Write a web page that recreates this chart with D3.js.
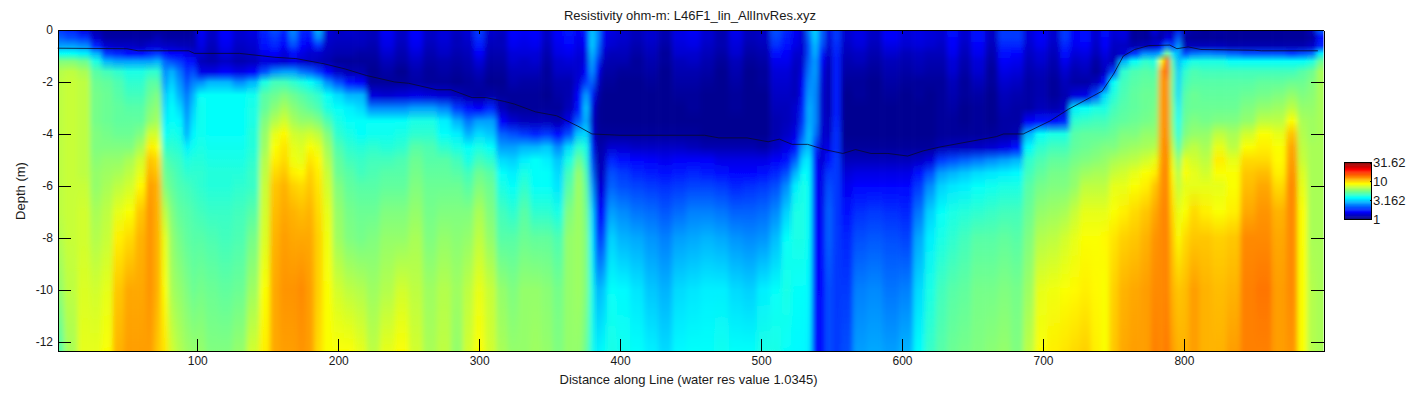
<!DOCTYPE html>
<html>
<head>
<meta charset="utf-8">
<script src="https://d3js.org/d3.v7.min.js"></script>
<style>
  body { margin: 0; background: #fff; }
  text { font-family: "Liberation Sans", Arial, sans-serif; fill: #1a1a1a; }
  .axis text { font-size: 12px; }
  .axis path, .axis line { stroke: #000; shape-rendering: crispEdges; }
</style>
</head>
<body>
<svg id="chart" width="1419" height="394"></svg>
<script>
const titleText = "Resistivity ohm-m: L46F1_lin_AllInvRes.xyz";
const xLabel = "Distance along Line (water res value 1.0345)";
const yLabel = "Depth (m)";
const xTicks = [100, 200, 300, 400, 500, 600, 700, 800];
const yTicks = [0, -2, -4, -6, -8, -10, -12];
const cbarTicks = [1, 3.162, 10, 31.62];

// depth nodes (m below surface) for each profile
const depths = [0, 0.3, 0.6, 0.9, 1.2, 1.6, 2, 2.5, 3, 3.5, 4, 4.5, 5, 5.5, 6, 7, 8, 10, 12.35];

const stations = [1, 10, 20, 28, 36, 44, 52, 60, 67, 72, 77, 82, 87, 93, 97, 102, 110, 120, 130, 140,
  148, 155, 162, 168, 174, 180, 186, 192, 200, 208, 216, 224, 235, 245, 255, 265, 275, 285, 292, 300,
  308, 316, 324, 332, 340, 348, 356, 364, 371, 376, 380, 384, 388, 393, 402, 412, 422, 432, 442, 452,
  462, 472, 482, 492, 502, 511, 518, 525, 530, 534, 538, 543, 548, 553, 560, 570, 580, 592, 604, 612,
  620, 628, 636, 644, 654, 664, 672, 682, 690, 698, 708, 716, 722, 730, 738, 744, 750, 757, 765, 773,
  780, 784, 788, 792, 796, 800, 807, 815, 825, 835, 845, 857, 868, 877, 884, 891, 897];

// resistivity per station, as percent of the log colour range (0 = 1 ohm-m, 100 = 31.62 ohm-m)
const profiles = [
  [18,22,28,38,50,55,56,56,56,56,56,56,56,56,56,56,55,52,46],
  [16,20,28,38,50,56,57,57,57,57,57,57,57,57,57,57,57,56,54],
  [10,18,26,36,48,54,56,56,56,56,56,56,56,56,57,58,58,59,60],
  [5,8,16,30,40,46,48,49,49,49,50,50,51,52,52,54,55,58,60],
  [3,4,8,18,30,44,47,48,48,48,49,50,52,53,54,56,57,60,62],
  [3,4,7,16,28,42,45,46,47,47,48,50,52,54,56,60,64,68,70],
  [3,4,7,14,28,40,42,44,46,47,48,50,54,56,58,62,66,71,72],
  [3,4,6,14,28,40,42,44,46,47,50,54,58,60,63,68,70,71,72],
  [3,4,8,16,28,42,46,48,50,52,58,64,68,70,72,73,73,73,72],
  [3,6,8,18,30,42,46,50,52,54,58,62,66,68,70,70,70,70,68],
  [3,4,7,14,22,26,28,32,34,36,38,42,46,48,50,56,60,62,65],
  [3,4,7,12,20,30,33,36,38,38,40,42,44,46,47,50,52,54,58],
  [3,4,6,12,18,24,27,30,34,37,39,41,43,44,45,47,49,52,55],
  [3,4,6,10,14,17,20,24,26,28,30,36,40,42,44,46,47,50,53],
  [3,4,5,8,14,20,25,30,33,35,37,39,41,42,43,45,46,48,52],
  [12,11,10,8,6,10,26,38,39,39,39,40,41,42,42,44,46,49,52],
  [7,7,6,5,5,10,30,38,38,38,38,39,40,41,41,43,45,48,50],
  [13,12,11,9,7,12,30,38,38,38,38,39,40,41,41,43,44,47,50],
  [8,8,7,6,5,10,26,38,38,38,38,39,40,41,42,44,45,48,52],
  [10,9,8,7,6,12,30,39,40,40,41,41,42,43,43,46,49,53,58],
  [16,15,14,11,9,20,40,46,47,50,52,53,55,56,57,58,59,62,64],
  [20,18,16,12,9,26,44,48,51,55,60,62,64,66,68,69,70,71,71],
  [16,14,12,9,8,28,44,50,54,58,63,65,66,68,70,71,72,73,72],
  [26,24,20,14,10,28,42,48,51,54,58,60,61,64,67,70,71,73,72],
  [16,15,13,10,8,24,40,46,49,52,57,59,60,63,66,69,71,74,73],
  [16,14,11,8,7,22,38,44,47,52,58,62,65,67,68,70,71,72,72],
  [30,26,18,8,6,18,34,42,45,50,56,60,63,64,65,66,67,67,66],
  [9,8,7,6,5,12,26,38,40,45,50,53,55,57,58,60,61,62,62],
  [7,7,6,5,3,7,20,34,38,40,42,45,47,48,50,52,53,58,62],
  [8,7,6,5,3,5,14,30,36,38,40,42,44,46,47,49,50,56,62],
  [7,7,6,4,3,5,12,30,34,38,38,41,43,44,46,48,49,55,60],
  [6,6,5,4,3,2,3,9,26,38,39,42,44,45,46,48,50,53,56],
  [12,11,10,8,6,4,3,8,26,38,39,41,44,46,47,50,52,55,60],
  [7,7,6,5,4,2,3,9,26,38,40,42,45,46,47,50,52,58,62],
  [13,12,11,9,7,5,4,10,28,40,42,46,48,49,50,52,54,56,58],
  [7,7,6,5,4,3,3,9,28,40,42,45,46,47,48,49,50,53,54],
  [9,9,8,7,5,4,3,8,25,36,38,42,46,47,48,50,52,55,56],
  [7,6,6,5,4,3,2,6,18,30,36,40,44,46,48,50,51,53,52],
  [9,8,7,6,5,4,3,4,14,24,30,38,40,44,46,50,52,56,58],
  [18,17,15,12,9,6,4,3,12,28,34,40,44,48,50,54,56,60,62],
  [8,7,6,5,4,3,2,4,16,28,32,38,42,46,48,50,52,57,58],
  [7,6,6,5,4,3,2,3,6,12,22,28,34,38,40,44,46,52,54],
  [13,12,11,9,8,6,5,3,3,8,20,28,33,36,38,42,46,50,52],
  [12,11,10,9,7,6,4,3,3,6,18,30,36,40,42,46,48,52,52],
  [13,12,11,9,8,6,4,3,3,6,16,30,38,38,38,42,47,52,53],
  [7,7,6,5,4,3,3,2,3,6,18,32,36,38,38,42,47,51,52],
  [13,12,11,10,8,7,5,4,3,5,14,26,32,34,35,40,45,49,50],
  [15,14,13,11,9,7,5,5,6,10,20,34,40,44,46,50,52,52,52],
  [12,11,10,9,8,8,9,12,14,22,32,42,48,52,53,53,53,53,52],
  [16,14,12,10,10,12,18,28,32,30,34,40,42,45,47,49,50,50,48],
  [32,33,33,31,29,27,23,16,10,8,10,16,20,24,28,34,36,40,40],
  [26,26,24,22,18,12,8,5,3,3,3,4,5,6,8,12,18,30,36],
  [12,11,10,8,6,4,3,2,2,2,3,5,6,7,9,14,20,32,38],
  [10,9,8,6,5,4,3,2,2,2,3,8,16,20,22,28,33,38,40],
  [8,8,7,6,5,3,2,2,2,2,3,8,14,18,20,26,30,37,39],
  [6,6,5,4,3,3,2,2,2,2,3,7,13,16,19,24,29,35,38],
  [8,8,7,6,5,4,3,2,2,2,3,7,12,15,18,23,27,32,36],
  [5,5,4,3,3,2,2,2,2,2,3,7,11,14,17,21,25,30,34],
  [10,10,9,8,6,5,4,3,2,2,3,7,12,15,18,23,28,34,37],
  [12,11,10,8,7,5,4,3,3,2,3,6,12,16,19,25,29,35,38],
  [8,8,7,6,5,4,3,2,2,2,2,5,12,15,19,25,30,36,38],
  [5,5,5,4,3,2,2,2,2,2,2,5,10,14,18,24,29,36,39],
  [11,10,9,8,6,5,4,3,3,2,2,5,10,13,16,22,27,34,38],
  [6,6,5,4,3,2,2,2,2,2,2,5,10,13,17,22,26,33,38],
  [7,7,6,5,4,3,3,2,2,2,2,4,10,14,18,23,27,36,40],
  [20,19,17,14,11,9,8,7,6,5,5,7,12,16,20,26,31,38,40],
  [16,15,14,12,11,9,8,7,6,6,7,10,14,20,26,33,38,40,38],
  [12,11,10,8,7,6,6,6,8,8,10,14,22,30,36,40,40,38,37],
  [8,8,8,8,8,10,12,14,16,18,22,28,34,38,40,40,40,38,37],
  [24,22,20,20,22,24,26,28,30,30,32,32,36,37,38,38,38,37,36],
  [34,33,31,30,28,28,27,26,26,26,24,18,14,14,14,14,14,14,14],
  [22,22,20,16,12,10,9,8,8,8,8,8,8,10,10,11,12,13,14],
  [10,9,8,7,6,5,5,5,5,6,7,10,14,18,20,22,22,20,20],
  [18,18,17,16,15,15,15,15,15,16,17,17,18,18,18,18,18,18,18],
  [8,8,7,6,5,4,3,2,2,2,2,3,6,9,11,14,16,18,20],
  [10,10,9,7,6,4,3,3,2,2,2,3,6,10,13,17,20,25,28],
  [7,7,6,5,4,3,2,2,2,2,2,3,6,10,13,18,21,26,29],
  [12,12,10,8,6,5,4,3,2,2,2,3,6,10,13,17,20,24,28],
  [9,9,8,6,5,4,3,2,2,2,2,3,6,10,13,16,19,25,30],
  [10,10,9,7,6,5,3,3,2,2,2,3,7,14,18,24,29,34,38],
  [9,9,8,6,5,4,3,2,2,2,2,3,9,20,26,33,36,40,43],
  [8,8,7,6,5,4,3,3,3,3,3,5,18,28,33,38,40,44,46],
  [14,13,12,11,9,8,6,5,4,3,3,6,20,30,35,40,42,46,48],
  [8,8,7,6,5,4,3,3,2,2,3,6,22,32,36,41,44,47,49],
  [14,14,12,11,9,8,6,4,3,3,3,7,24,34,38,42,46,49,50],
  [7,7,6,5,4,3,3,2,2,2,3,8,26,35,39,43,46,49,51],
  [18,18,16,14,12,10,8,6,5,4,4,10,28,36,40,44,47,50,52],
  [18,18,16,13,11,9,7,5,4,4,5,14,30,37,40,44,46,49,50],
  [9,9,8,7,6,5,4,4,4,12,30,37,42,44,46,48,50,53,56],
  [12,12,11,9,8,6,5,5,6,14,38,42,45,47,49,52,55,60,62],
  [8,8,7,6,5,4,3,3,5,14,40,44,47,49,50,53,56,61,64],
  [18,18,16,14,11,8,6,5,7,16,40,44,47,49,50,54,58,62,65],
  [12,12,11,9,7,5,4,9,36,42,46,47,49,51,52,57,60,63,66],
  [14,14,12,10,8,6,4,10,38,43,47,48,50,53,56,60,62,64,67],
  [8,8,7,6,4,3,6,20,40,44,47,49,51,54,56,60,62,63,64],
  [14,13,12,10,8,7,14,34,40,44,47,50,52,54,56,60,63,62,62],
  [9,8,7,6,6,20,38,41,44,46,48,50,54,57,60,62,65,67,68],
  [10,9,7,8,30,42,44,45,46,47,50,52,55,58,60,64,67,70,71],
  [3,3,5,18,38,45,46,47,47,48,50,53,56,60,62,66,68,71,72],
  [3,3,6,26,42,46,47,48,48,49,52,54,58,62,64,68,70,72,72],
  [10,6,8,26,40,45,47,48,49,50,52,55,60,64,68,71,73,74,75],
  [4,4,12,30,62,72,72,72,72,72,72,72,72,73,73,74,74,74,74],
  [6,10,24,50,80,78,74,74,74,74,74,75,75,75,75,75,75,75,76],
  [5,8,16,34,44,48,48,48,50,50,52,56,60,62,64,66,68,70,72],
  [16,22,28,30,30,32,33,34,36,38,40,44,50,54,56,60,62,68,70],
  [6,4,6,20,36,42,44,46,47,48,50,54,60,62,60,62,66,69,70],
  [4,3,6,24,40,45,46,48,48,50,52,56,58,60,60,66,68,72,72],
  [3,3,6,25,40,44,46,47,48,49,52,54,56,58,60,64,68,70,70],
  [4,3,6,24,40,44,46,47,48,50,56,60,64,62,60,62,67,69,70],
  [3,3,5,22,38,44,46,47,48,50,54,56,60,62,62,64,68,70,72],
  [3,3,5,20,38,44,46,48,50,52,58,62,66,68,69,71,74,75,75],
  [3,3,5,20,38,44,47,49,52,56,62,64,66,69,71,73,74,76,75],
  [3,3,5,20,38,44,47,50,53,56,60,62,63,64,66,70,71,72,72],
  [3,3,5,18,38,44,48,52,56,62,68,71,72,73,74,74,74,74,73],
  [3,3,5,20,38,46,48,50,52,54,55,56,57,59,60,62,62,62,62],
  [6,4,7,22,40,48,50,51,52,53,53,54,54,54,54,54,54,55,55],
  [22,14,16,36,48,54,54,54,54,54,54,54,54,54,54,54,54,54,54],
];

// water bottom trace
const bottomX = [1, 50, 58, 94, 98, 130, 155, 170, 190, 205, 220, 240, 250, 270, 280, 295, 305, 318, 325, 340,
  355, 370, 380, 400, 460, 470, 490, 505, 513, 522, 533, 545, 558, 567, 578, 590, 604, 615, 627, 667,
  672, 686, 705, 718, 742, 750, 757, 765, 775, 790, 795, 803, 812, 850, 855, 895];
const bottomD = [0.7, 0.72, 0.8, 0.8, 0.9, 0.9, 1.05, 1.1, 1.3, 1.5, 1.75, 2, 2.05, 2.3, 2.3, 2.6, 2.6, 2.75, 2.85, 3.15,
  3.3, 3.7, 4, 4.05, 4.05, 4.15, 4.15, 4.3, 4.2, 4.4, 4.4, 4.6, 4.75, 4.6, 4.75, 4.75, 4.85, 4.65, 4.5, 4.1,
  4, 4, 3.5, 3.05, 2.35, 1.7, 1, 0.75, 0.6, 0.58, 0.72, 0.65, 0.75, 0.78, 0.8, 0.8];

const W = 1419, H = 394;
const m = { l: 58, r: 1323.5, t: 30, b: 351 };
const svg = d3.select("#chart");
const defs = svg.append("defs");

const x = d3.scaleLinear().domain([1.2, 899]).range([m.l, m.r]);
const y = d3.scaleLinear().domain([0, -12.35]).range([m.t, m.b]);
// jet colormap over the log range
const jet = d3.scaleLinear()
  .domain([0, 12.5, 37.5, 62.5, 87.5, 100])
  .range(["#00007c", "#0000ff", "#00ffff", "#ffff00", "#ff0000", "#800000"]);

defs.append("clipPath").attr("id", "plotclip").append("rect")
  .attr("x", m.l).attr("y", m.t).attr("width", m.r - m.l).attr("height", m.b - m.t);
// only smears sideways, stands in for the interpolated shading of the original
const blur = defs.append("filter").attr("id", "xsmooth")
  .attr("filterUnits", "userSpaceOnUse").attr("x", 0).attr("y", 0).attr("width", W).attr("height", H);
blur.append("feGaussianBlur").attr("stdDeviation", "2.6 0");

const cols = stations.map((s, i) => ({
  s, vals: profiles[i],
  x0: i === 0 ? m.l - 20 : x((stations[i - 1] + s) / 2),
  x1: i === stations.length - 1 ? m.r + 20 : x((s + stations[i + 1]) / 2),
}));

defs.selectAll("linearGradient.col").data(cols).join("linearGradient")
  .attr("class", "col").attr("id", (d, i) => "col" + i)
  .attr("gradientUnits", "userSpaceOnUse")
  .attr("x1", 0).attr("x2", 0).attr("y1", m.t).attr("y2", m.b)
  .selectAll("stop").data(d => d.vals).join("stop")
  .attr("offset", (v, i) => (y(-depths[i]) - m.t) / (m.b - m.t))
  .attr("stop-color", v => jet(v));

const plot = svg.append("g").attr("clip-path", "url(#plotclip)").append("g").attr("filter", "url(#xsmooth)");
plot.selectAll("rect").data(cols).join("rect")
  .attr("x", d => d.x0).attr("y", m.t)
  .attr("width", d => d.x1 - d.x0 + 0.6).attr("height", m.b - m.t)
  .attr("fill", (d, i) => `url(#col${i})`);

const line = d3.line().x(d => x(d[0])).y(d => y(-d[1]));
svg.append("path").datum(bottomX.map((v, i) => [v, bottomD[i]]))
  .attr("d", line).attr("fill", "none").attr("stroke", "#0a0a2a").attr("stroke-width", 0.8);

// axes, inward ticks on all four sides like a boxed matlab plot
const yFmt = d => String(d);
svg.append("g").attr("class", "axis").attr("transform", `translate(0,${m.b})`)
  .call(d3.axisBottom(x).tickValues(xTicks).tickFormat(yFmt).tickSizeInner(-12.5).tickSizeOuter(0).tickPadding(5))
  .selectAll("text").attr("dy", "0.75em").attr("y", 5);
svg.append("g").attr("class", "axis").attr("transform", `translate(0,${m.t})`)
  .call(d3.axisTop(x).tickValues(xTicks).tickFormat("").tickSizeInner(-4).tickSizeOuter(0));
svg.append("g").attr("class", "axis").attr("transform", `translate(${m.l},0)`)
  .call(d3.axisLeft(y).tickValues(yTicks).tickFormat(yFmt).tickSizeInner(-12.5).tickSizeOuter(0))
  .selectAll("text").attr("x", -5);
svg.append("g").attr("class", "axis").attr("transform", `translate(${m.r},0)`)
  .call(d3.axisRight(y).tickValues(yTicks).tickFormat("").tickSizeInner(-12.5).tickSizeOuter(0));

svg.append("text").attr("x", 690).attr("y", 20).attr("text-anchor", "middle").style("font-size", "13px").text(titleText);
svg.append("text").attr("x", 688.5).attr("y", 384).attr("text-anchor", "middle").style("font-size", "13px").text(xLabel);
svg.append("text").attr("transform", "translate(25,191) rotate(-90)").attr("text-anchor", "middle").style("font-size", "13px").text(yLabel);

// colour bar
const cb = { l: 1344.5, r: 1371.5, t: 162.5, b: 219 };
const cy = d3.scaleLog().domain([1, 31.62]).range([cb.b, cb.t]);
const levels = d3.range(0, 100, 100 / 64);
const cLevel = d3.scaleLinear().domain([0, 100]).range([cb.b, cb.t]);
svg.append("g").selectAll("rect").data(levels).join("rect")
  .attr("x", cb.l).attr("width", cb.r - cb.l)
  .attr("y", d => cLevel(d + 100 / 64)).attr("height", d => cLevel(d) - cLevel(d + 100 / 64) + 0.5)
  .attr("fill", d => jet(d));
svg.append("rect").attr("x", cb.l).attr("y", cb.t).attr("width", cb.r - cb.l).attr("height", cb.b - cb.t)
  .attr("fill", "none").attr("stroke", "#000").attr("shape-rendering", "crispEdges");
svg.append("g").attr("class", "axis").attr("transform", `translate(${cb.r},0)`)
  .call(d3.axisRight(cy).tickValues(cbarTicks).tickFormat(yFmt).tickSizeInner(-2).tickSizeOuter(0).tickPadding(3))
  .call(g => g.select(".domain").remove())
  .selectAll("text").attr("x", 1.5).style("font-size", "13px");
</script>
</body>
</html>
